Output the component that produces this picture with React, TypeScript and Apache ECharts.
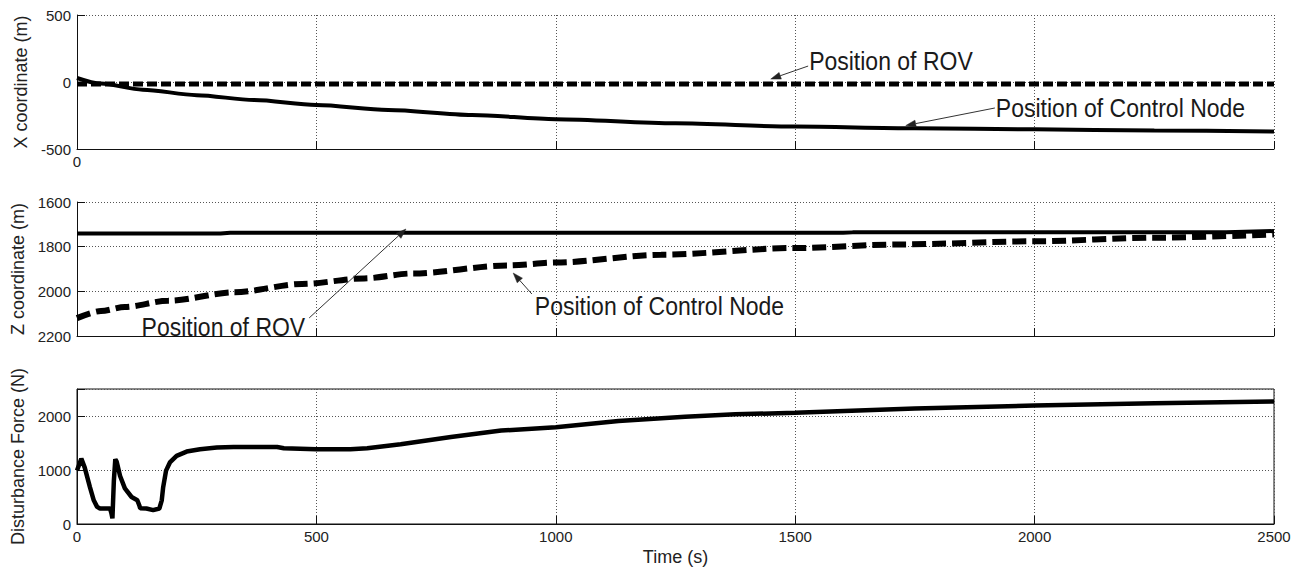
import React, { useEffect, useRef } from "react";
import * as echarts from "echarts";

// ---------- data ----------
const timeMin = 0;
const timeMax = 2500;

// Panel 1: X coordinate (m)
const xTime = [0, 50, 137, 250, 370, 500, 650, 825, 1000, 1250, 1500, 1750, 2000, 2250, 2500];
const controlNodeX = [30, -12, -57, -98, -135, -172, -209, -246, -278, -308, -333, -345, -353, -362, -370];
const rovXTime = [0, 500, 1000, 1500, 2000, 2500];
const rovX = [-15, -15, -15, -15, -15, -15];

// Panel 2: Z coordinate (m)
const zTime = [0, 50, 100, 190, 330, 470, 600, 700, 900, 1000, 1220, 1500, 1720, 2000, 2250, 2500];
const controlNodeZ = [2120, 2088, 2070, 2042, 2004, 1967, 1942, 1920, 1884, 1871, 1836, 1806, 1790, 1776, 1760, 1745];
const rovZTime = [0, 300, 320, 1600, 1620, 2400, 2500];
const rovZ = [1741, 1741, 1738, 1738, 1736, 1735, 1730];

// Panel 3: Disturbance Force (N)
const fTime = [0, 9, 16, 27, 35, 42, 48, 69, 72, 74, 77, 80, 83, 90, 100, 114, 126, 130, 132, 145, 159, 172, 177, 180, 186, 194, 208, 229, 257, 292, 327, 418, 432, 500, 571, 606, 676, 781, 886, 1000, 1131, 1270, 1375, 1500, 1750, 2000, 2250, 2500];
const force = [990, 1210, 1049, 683, 439, 317, 287, 287, 195, 104, 805, 1200, 1150, 890, 660, 500, 440, 348, 290, 287, 256, 287, 439, 683, 988, 1140, 1262, 1341, 1384, 1415, 1427, 1427, 1402, 1384, 1384, 1402, 1475, 1610, 1730, 1790, 1907, 1985, 2031, 2060, 2140, 2195, 2235, 2270];

// Axis ticks / labels
const xTicks = [-500, 0, 500];
const zTicks = [1600, 1800, 2000, 2200];
const fTicks = [0, 1000, 2000];

const labelX = "X coordinate (m)";
const labelZ = "Z coordinate (m)";
const labelF = "Disturbance Force (N)";
const labelT = "Time (s)";

// Annotations (arrow tail/tip in data coordinates of each panel)
const annotations = [
  { panel: 0, text: "Position of ROV", tail: [1527, 119], tip: [1449, 22], dx: 1, dy: -5, align: "left" },
  { panel: 0, text: "Position of Control Node", tail: [1917, -194], tip: [1731, -325], dx: 1, dy: 0, align: "left" },
  { panel: 1, text: "Position of ROV", tail: [485, 2119], tip: [687, 1721], dx: -4, dy: 9, align: "right" },
  { panel: 1, text: "Position of Control Node", tail: [950, 2012], tip: [911, 1918], dx: 3, dy: 12, align: "left" },
];

const pairs = (t: number[], v: number[]) => t.map((x, i) => [x, v[i]]);

const FONT = "'Liberation Sans', Arial, Helvetica, sans-serif";
const INK = "#111";

const gridLine = { show: true, lineStyle: { color: "#555", type: [1, 2] as any, width: 1 } };

function xAxis(gridIndex: number, mode: "zero" | "none" | "all") {
  return {
    type: "value",
    gridIndex,
    min: timeMin,
    max: timeMax,
    interval: 500,
    axisLine: { show: true, onZero: false, lineStyle: { color: INK, width: 1 } },
    axisTick: { show: true, inside: true, length: 8, lineStyle: { color: INK } },
    splitLine: gridLine,
    axisLabel: {
      show: mode !== "none",
      margin: 5,
      color: "#222",
      fontSize: 15,
      fontFamily: FONT,
      formatter: (v: number) => (mode === "zero" ? (v === 0 ? "0" : "") : String(v)),
    },
    name: mode === "all" ? labelT : "",
    nameLocation: "middle",
    nameGap: 24,
    nameTextStyle: { fontSize: 18, color: "#222", fontFamily: FONT },
  };
}

function yAxis(gridIndex: number, ticks: number[], min: number, max: number, name: string, inverse = false) {
  const interval = ticks[1] - ticks[0];
  return {
    type: "value",
    gridIndex,
    min,
    max,
    interval,
    inverse,
    axisLine: { show: true, onZero: false, lineStyle: { color: INK, width: 1 } },
    axisTick: { show: true, inside: true, length: 8, lineStyle: { color: INK } },
    splitLine: gridLine,
    axisLabel: {
      margin: 6,
      color: "#222",
      fontSize: 15,
      fontFamily: FONT,
      formatter: (v: number) => (ticks.includes(v) ? String(v) : ""),
    },
    name,
    nameLocation: "middle",
    nameGap: 44,
    nameTextStyle: { fontSize: 18, color: "#222", fontFamily: FONT },
  };
}

const lineSeries = (idx: number, data: number[][], width: number, dash: any, smooth: number | boolean) => ({
  type: "line",
  xAxisIndex: idx,
  yAxisIndex: idx,
  data,
  showSymbol: false,
  symbol: "none",
  smooth,
  smoothMonotone: "x",
  lineStyle: { color: "#000", width, type: dash },
  emphasis: { disabled: true },
});

export default function App() {
  const ref = useRef<HTMLDivElement>(null);

  useEffect(() => {
    const chart = echarts.init(ref.current!, null, { renderer: "svg" });
    const option: any = {
      animation: false,
      backgroundColor: "#fff",
      textStyle: { fontFamily: FONT },
      grid: [
        { left: 77, width: 1197, top: 15, height: 134 },
        { left: 77, width: 1197, top: 202, height: 134 },
        { left: 77, width: 1197, top: 389, height: 135, show: true, borderColor: INK, borderWidth: 1, backgroundColor: "transparent" },
      ],
      xAxis: [xAxis(0, "zero"), xAxis(1, "none"), xAxis(2, "all")],
      yAxis: [
        yAxis(0, xTicks, -500, 500, labelX),
        yAxis(1, zTicks, 1600, 2200, labelZ, true),
        yAxis(2, fTicks, 0, 2500, labelF),
      ],
      series: [
        lineSeries(0, pairs(xTime, controlNodeX), 4, "solid", 0.3),
        lineSeries(0, pairs(rovXTime, rovX), 5, [10, 4], false),
        lineSeries(1, pairs(rovZTime, rovZ), 4, "solid", false),
        lineSeries(1, pairs(zTime, controlNodeZ), 6, [14, 6], 0.3),
        lineSeries(2, pairs(fTime, force), 4.5, "solid", false),
      ],
    };
    chart.setOption(option);

    const graphics: any[] = [];
    annotations.forEach((a) => {
      const finder = { xAxisIndex: a.panel, yAxisIndex: a.panel };
      const tail = chart.convertToPixel(finder, a.tail) as number[];
      const tip = chart.convertToPixel(finder, a.tip) as number[];
      const ddx = tip[0] - tail[0];
      const ddy = tip[1] - tail[1];
      const len = Math.sqrt(ddx * ddx + ddy * ddy) || 1;
      const ux = ddx / len;
      const uy = ddy / len;
      const hl = 10;
      const hw = 3.5;
      const bx = tip[0] - ux * hl;
      const by = tip[1] - uy * hl;
      graphics.push({
        type: "line",
        silent: true,
        shape: { x1: tail[0], y1: tail[1], x2: bx, y2: by },
        style: { stroke: "#333", lineWidth: 1 },
        z: 100,
      });
      graphics.push({
        type: "polygon",
        silent: true,
        shape: {
          points: [
            [tip[0], tip[1]],
            [bx - uy * hw, by + ux * hw],
            [bx + uy * hw, by - ux * hw],
          ],
        },
        style: { fill: "#222", stroke: "#222", lineWidth: 0.5 },
        z: 100,
      });
      graphics.push({
        type: "text",
        silent: true,
        x: tail[0] + a.dx,
        y: tail[1] + a.dy,
        scaleX: 0.92,
        style: {
          text: a.text,
          fill: "#1a1a1a",
          font: `25px ${FONT}`,
          align: a.align,
          verticalAlign: "middle",
        },
        z: 100,
      });
    });
    chart.setOption({ graphic: graphics });

    return () => chart.dispose();
  }, []);

  return <div ref={ref} style={{ position: "fixed", left: 0, top: 0, width: 1305, height: 571 }} />;
}
